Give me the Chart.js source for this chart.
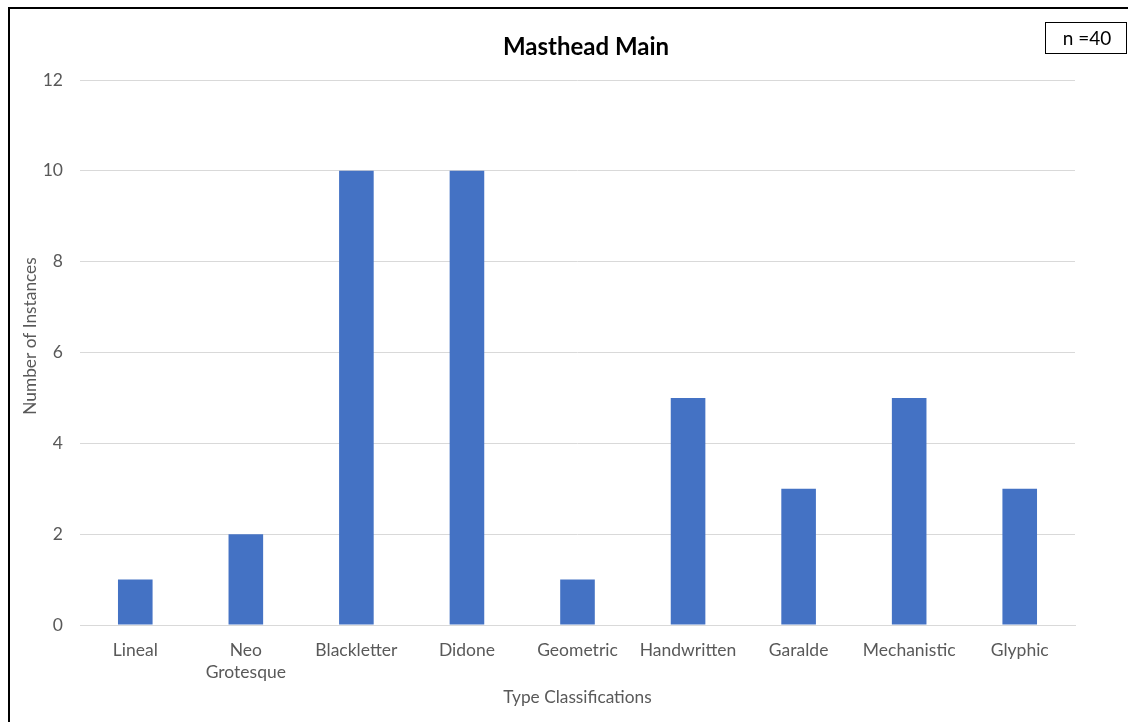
<!DOCTYPE html>
<html>
<head>
<meta charset="utf-8">
<script src="https://cdn.jsdelivr.net/npm/chart.js@4.4.1/dist/chart.umd.min.js"></script>
<style>
  html, body { margin: 0; padding: 0; background: #fff; }
  #wrap { position: relative; width: 1128px; height: 722px; }
  canvas { display: block; }
</style>
</head>
<body>
<div id="wrap"><canvas id="chart" width="1128" height="722"></canvas></div>
<script>
// Type classifications used in main mastheads
const categories = ['Lineal', ['Neo', 'Grotesque'], 'Blackletter', 'Didone', 'Geometric', 'Handwritten', 'Garalde', 'Mechanistic', 'Glyphic'];
const instances = [1, 2, 10, 10, 1, 5, 3, 5, 3];
const yTicks = [0, 2, 4, 6, 8, 10, 12];
const chartTitle = 'Masthead Main';
const xTitle = 'Type Classifications';
const yTitle = 'Number of Instances';
const sampleNote = 'n =40';

const FONT = 'Lato, "Open Sans", sans-serif';
const GREY = '#595959';
const GRID = '#d9d9d9';

// Frame around the figure, chart title, the sample-size box and the vertical axis title
const decorations = {
  id: 'decorations',
  afterDraw(chart) {
    const ctx = chart.ctx;
    ctx.save();
    // outer frame
    ctx.strokeStyle = '#000';
    ctx.lineWidth = 2;
    ctx.beginPath();
    ctx.moveTo(9, 730);
    ctx.lineTo(9, 8);
    ctx.lineTo(1140, 8);
    ctx.stroke();
    // chart title
    ctx.fillStyle = '#000';
    ctx.font = 'bold 24px ' + FONT;
    ctx.textAlign = 'center';
    ctx.textBaseline = 'middle';
    ctx.fillText(chartTitle, 586, 47);
    // sample-size box
    ctx.lineWidth = 1;
    ctx.strokeStyle = '#000';
    ctx.fillStyle = '#fff';
    ctx.fillRect(1045.5, 22.5, 81, 31);
    ctx.strokeRect(1045.5, 22.5, 81, 31);
    ctx.fillStyle = '#000';
    ctx.font = '19px ' + FONT;
    ctx.fillText(sampleNote, 1087, 38.5);
    // y axis title
    ctx.translate(30, 336);
    ctx.rotate(-Math.PI / 2);
    ctx.fillStyle = GREY;
    ctx.font = '17.3px ' + FONT;
    ctx.fillText(yTitle, 0, 0);
    ctx.restore();
  }
};

new Chart(document.getElementById('chart'), {
  type: 'bar',
  data: {
    labels: categories,
    datasets: [{
      label: 'Instances',
      data: instances,
      backgroundColor: '#4472C4',
      borderWidth: 0,
      barPercentage: 0.313,
      categoryPercentage: 1
    }]
  },
  options: {
    responsive: false,
    animation: false,
    devicePixelRatio: 1,
    layout: { padding: { top: 80, left: 10, right: 53, bottom: 0 } },
    plugins: {
      legend: { display: false },
      tooltip: { enabled: false },
      title: { display: false }
    },
    scales: {
      x: {
        grid: { display: false, drawTicks: false },
        border: { display: true, color: GRID, width: 1 },
        ticks: {
          color: GREY,
          font: { family: FONT, size: 17.5, lineHeight: 1.257 },
          padding: 14,
          maxRotation: 0,
          autoSkip: false
        },
        title: {
          display: true,
          text: xTitle,
          color: GREY,
          font: { family: FONT, size: 17.3, lineHeight: 1.2 },
          padding: { top: 0, bottom: 14.6 }
        },
        afterFit(scale) { scale.height = 97; }
      },
      y: {
        min: 0,
        max: 12,
        afterBuildTicks(scale) { scale.ticks = yTicks.map(v => ({ value: v })); },
        grid: { color: GRID, lineWidth: 1, drawTicks: false },
        border: { display: false },
        ticks: {
          color: GREY,
          font: { family: FONT, size: 17.5 },
          padding: 17
        },
        afterFit(scale) { scale.width = 70; }
      }
    }
  },
  plugins: [decorations]
});
</script>
</body>
</html>
